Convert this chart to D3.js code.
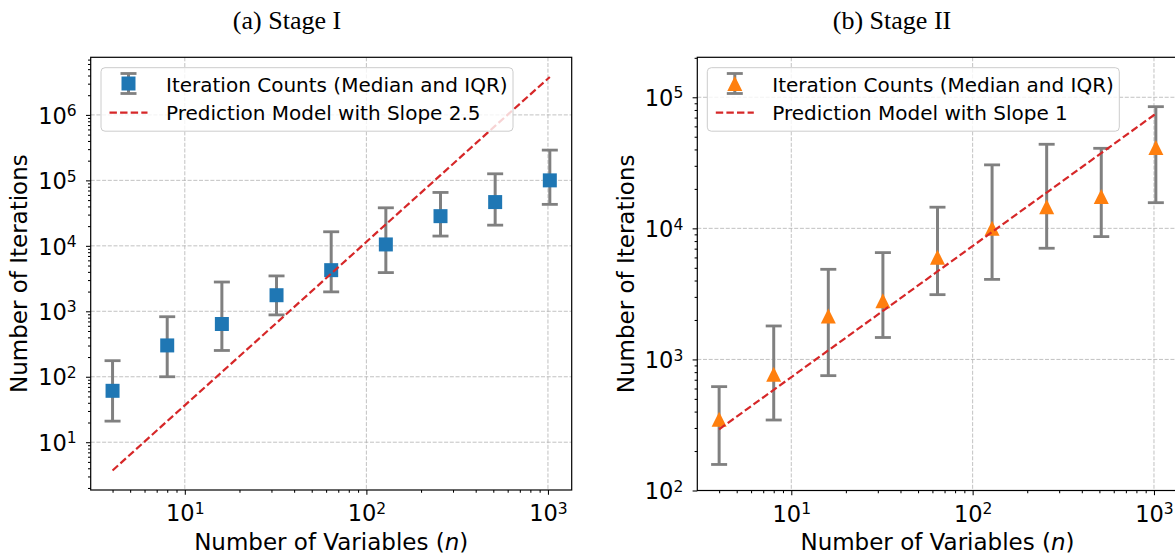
<!DOCTYPE html>
<html>
<head>
<meta charset="utf-8">
<style>
  *{margin:0;padding:0;box-sizing:border-box}
  body{background:#fff;width:1175px;height:557px;overflow:hidden}
  svg{display:block}
  text{font-family:"DejaVu Sans",sans-serif;fill:#000}
  text.caption{font-family:"Liberation Serif","Times New Roman",serif}
</style>
</head>
<body>
<svg id="chart"></svg>
<script src="https://cdn.jsdelivr.net/npm/d3@7/dist/d3.min.js"></script>
<script>
// problem sizes (number of variables)
const N_VALUES = [4, 8, 16, 32, 64, 128, 256, 512, 1024];

// Stage I iteration counts: median, lower / upper quartile
const STAGE1_MEDIAN = [61, 301, 640, 1760, 4250, 10500, 28400, 46600, 100000];
const STAGE1_Q1     = [21, 100, 252, 881, 1980, 3900, 14100, 20700, 43000];
const STAGE1_Q3     = [176, 826, 2800, 3470, 16400, 38100, 65400, 126000, 290000];
const STAGE1_PRED   = [3.7, 21, 118, 665, 3760, 21300, 120000, 680000, 3800000];

// Stage II iteration counts
const STAGE2_MEDIAN = [349, 770, 2140, 2800, 6030, 10000, 14600, 17500, 41300];
const STAGE2_Q1     = [158, 345, 752, 1470, 3120, 4080, 7050, 8650, 15700];
const STAGE2_Q3     = [620, 1800, 4870, 6530, 14500, 30500, 43800, 40800, 84800];
const STAGE2_PRED   = [293, 586, 1172, 2344, 4690, 9380, 18750, 37500, 75000];

// tick values
const X_TICKS  = [10, 100, 1000];
const Y1_TICKS = [1e1, 1e2, 1e3, 1e4, 1e5, 1e6];
const Y2_TICKS = [1e2, 1e3, 1e4, 1e5];

const LEGEND1 = ['Iteration Counts (Median and IQR)', 'Prediction Model with Slope 2.5'];
const LEGEND2 = ['Iteration Counts (Median and IQR)', 'Prediction Model with Slope 1'];

const BLUE = '#1f77b4', ORANGE = '#ff7f0e', RED = '#d62728', GRAY = '#808080';
const W = 1175, H = 557;

const svg = d3.select('#chart').attr('width', W).attr('height', H);

const squarePath = s => `M${-s/2},${-s/2}h${s}v${s}h${-s}Z`;
const trianglePath = s => `M0,${-s/2}L${s/2},${s/2}L${-s/2},${s/2}Z`;

function supLabel(sel, d) {
  sel.text(null);
  sel.append('tspan').text('10');
  sel.append('tspan').attr('dy', -7.5).attr('font-size', 15.5).text(Math.round(Math.log10(d)));
}

function drawPanel(p) {
  const x = d3.scaleLog().domain([10 ** 0.4817, 10 ** 3.1308]).range([p.left, p.right]);
  const y = d3.scaleLog().domain(p.yDomain).range([p.bottom, p.top]);
  const g = svg.append('g');

  // grid
  g.append('g').selectAll('line').data(X_TICKS).join('line')
    .attr('x1', d => x(d)).attr('x2', d => x(d)).attr('y1', p.top).attr('y2', p.bottom)
    .attr('stroke', '#b0b0b0').attr('stroke-width', 0.9).attr('stroke-dasharray', '4,1.7').attr('opacity', 0.85);
  g.append('g').selectAll('line').data(p.yTicks).join('line')
    .attr('y1', d => y(d)).attr('y2', d => y(d)).attr('x1', p.left).attr('x2', p.right)
    .attr('stroke', '#b0b0b0').attr('stroke-width', 0.9).attr('stroke-dasharray', '4,1.7').attr('opacity', 0.85);

  // error bars
  const eb = g.append('g').attr('stroke', GRAY);
  eb.selectAll('line.v').data(N_VALUES).join('line').attr('class', 'v')
    .attr('x1', d => x(d)).attr('x2', d => x(d))
    .attr('y1', (d, i) => y(p.q1[i])).attr('y2', (d, i) => y(p.q3[i]))
    .attr('stroke-width', 3);
  [p.q1, p.q3].forEach(arr => {
    eb.append('g').selectAll('line').data(N_VALUES).join('line')
      .attr('x1', d => x(d) - 8).attr('x2', d => x(d) + 8)
      .attr('y1', (d, i) => y(arr[i])).attr('y2', (d, i) => y(arr[i]))
      .attr('stroke-width', 2.8);
  });

  // markers
  g.append('g').selectAll('path').data(N_VALUES).join('path')
    .attr('transform', (d, i) => `translate(${x(d)},${y(p.median[i])})`)
    .attr('d', p.marker).attr('fill', p.color);

  // prediction line
  g.append('path').datum(N_VALUES)
    .attr('d', d3.line().x(d => x(d)).y((d, i) => y(p.pred[i])))
    .attr('fill', 'none').attr('stroke', RED).attr('stroke-width', 2.2)
    .attr('stroke-dasharray', '7.4,3.2');

  // legend
  const lg = g.append('g').attr('transform', `translate(${p.legendX},67.7)`);
  lg.append('rect').attr('width', 412).attr('height', 63.5).attr('rx', 4)
    .attr('fill', '#fff').attr('fill-opacity', 0.8).attr('stroke', '#cccccc').attr('stroke-width', 1);
  const hx = 27.5;
  lg.append('line').attr('x1', hx).attr('x2', hx).attr('y1', 5.8).attr('y2', 25.8)
    .attr('stroke', GRAY).attr('stroke-width', 3);
  [5.8, 25.8].forEach(cy => lg.append('line').attr('x1', hx - 8).attr('x2', hx + 8)
    .attr('y1', cy).attr('y2', cy).attr('stroke', GRAY).attr('stroke-width', 2.8));
  lg.append('path').attr('transform', `translate(${hx},15.8)`).attr('d', p.marker).attr('fill', p.color);
  lg.append('line').attr('x1', hx - 19).attr('x2', hx + 19).attr('y1', 45).attr('y2', 45)
    .attr('stroke', RED).attr('stroke-width', 2.2).attr('stroke-dasharray', '7.4,3.2');
  lg.selectAll('text').data(p.legend).join('text')
    .attr('x', 65).attr('y', (d, i) => 24 + i * 28.8)
    .attr('font-size', 20).text(d => d);

  // frame
  g.append('rect').attr('x', p.left).attr('y', p.top)
    .attr('width', p.right - p.left).attr('height', p.bottom - p.top)
    .attr('fill', 'none').attr('stroke', '#000').attr('stroke-width', 1.2);

  // axes
  const xMinor = x.ticks().filter(d => !X_TICKS.includes(d));
  const yMinor = y.ticks().filter(d => Math.abs(Math.log10(d) % 1) > 1e-6);

  const xa = g.append('g').attr('transform', `translate(0,${p.bottom})`)
    .call(d3.axisBottom(x).tickValues(X_TICKS).tickSize(4.7).tickSizeOuter(0).tickFormat(() => ''));
  g.append('g').attr('transform', `translate(0,${p.bottom})`)
    .call(d3.axisBottom(x).tickValues(xMinor).tickSize(2.7).tickSizeOuter(0).tickFormat(() => ''));
  const ya = g.append('g').attr('transform', `translate(${p.left},0)`)
    .call(d3.axisLeft(y).tickValues(p.yTicks).tickSize(4.7).tickSizeOuter(0).tickFormat(() => ''));
  g.append('g').attr('transform', `translate(${p.left},0)`)
    .call(d3.axisLeft(y).tickValues(yMinor).tickSize(2.7).tickSizeOuter(0).tickFormat(() => ''));
  g.selectAll('.domain').remove();
  g.selectAll('.tick line').attr('stroke', '#000').attr('stroke-width', 1.05);

  xa.selectAll('.tick text').attr('y', 31).attr('dy', null)
    .attr('font-size', 22.5).attr('fill', '#000')
    .each(function (d) { supLabel(d3.select(this), d); });
  ya.selectAll('.tick text').attr('x', -14).attr('y', 8.2).attr('dy', null)
    .attr('font-size', 22.5).attr('fill', '#000')
    .each(function (d) { supLabel(d3.select(this), d); });

  // axis titles
  const xl = g.append('text').attr('x', (p.left + p.right) / 2).attr('y', 549.5)
    .attr('text-anchor', 'middle').attr('font-size', 23);
  xl.append('tspan').text('Number of Variables (');
  xl.append('tspan').attr('font-style', 'italic').text('n');
  xl.append('tspan').text(')');
  g.append('text').attr('transform', `translate(${p.left - 63.8},${(p.top + p.bottom) / 2}) rotate(-90)`)
    .attr('text-anchor', 'middle').attr('font-size', 23).text('Number of Iterations');

  // subfigure caption
  svg.append('text').attr('class', 'caption').attr('x', p.captionX).attr('y', 29)
    .attr('text-anchor', 'middle').attr('font-size', 26).text(p.caption);
}

drawPanel({
  left: 90.7, right: 571.7, top: 57.3, bottom: 490,
  yDomain: [10 ** 0.27, 10 ** 6.88], yTicks: Y1_TICKS,
  median: STAGE1_MEDIAN, q1: STAGE1_Q1, q3: STAGE1_Q3, pred: STAGE1_PRED,
  marker: squarePath(14), color: BLUE, legend: LEGEND1, legendX: 101,
  caption: '(a) Stage I', captionX: 287
});

drawPanel({
  left: 697.3, right: 1177.7, top: 57.3, bottom: 490.5,
  yDomain: [100, 10 ** 5.305], yTicks: Y2_TICKS,
  median: STAGE2_MEDIAN, q1: STAGE2_Q1, q3: STAGE2_Q3, pred: STAGE2_PRED,
  marker: trianglePath(15), color: ORANGE, legend: LEGEND2, legendX: 707.3,
  caption: '(b) Stage II', captionX: 892
});
</script>
</body>
</html>
